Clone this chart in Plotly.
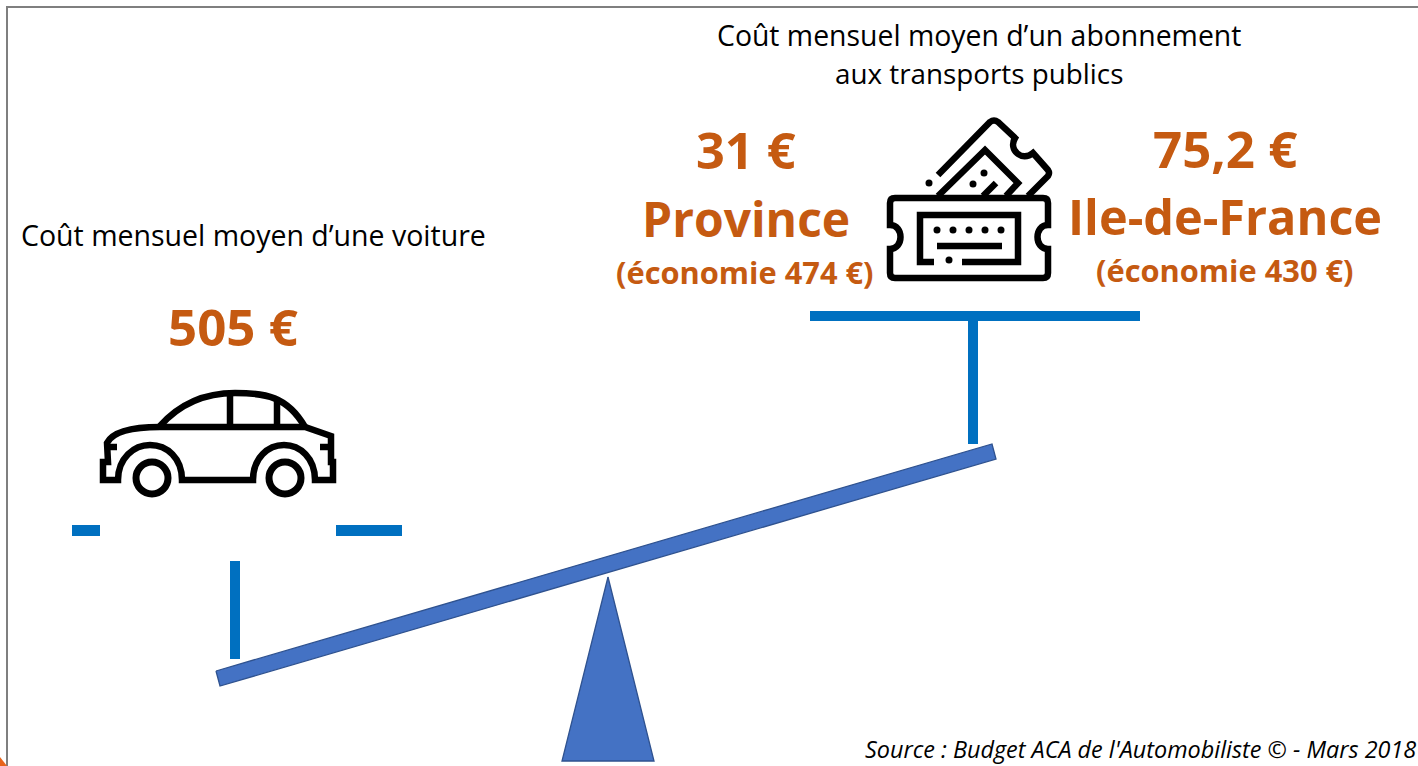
import plotly.graph_objects as go

W, H = 1418, 766
BLUE = "#0070C0"
BEAM = "#4472C4"
BEAM_LINE = "#2F528F"
ORANGE = "#C55A11"
BLACK = "#000000"
FONT = "Open Sans"

# Labels: text, x, y, size, bold, italic, colour, anchor
label_text = ["Coût mensuel moyen d’un abonnement", "aux transports publics", "Coût mensuel moyen d’une voiture",
              "505 €", "31 €", "Province", "(économie 474 €)", "75,2 €", "Ile-de-France", "(économie 430 €)",
              "Source : Budget ACA de l'Automobiliste © - Mars 2018"]
label_x = [979, 979, 253, 233, 746, 746, 745, 1225, 1225, 1225, 1418]
label_y = [35, 73, 235, 326, 149, 218, 272, 148, 216, 270, 749]
label_size = [28.4, 27.8, 28.5, 51, 50.5, 48, 30.8, 51, 48.6, 30.8, 23.4]
label_bold = [0, 0, 0, 1, 1, 1, 1, 1, 1, 1, 0]
label_italic = [0, 0, 0, 0, 0, 0, 0, 0, 0, 0, 1]
label_anchor = ["center"] * 10 + ["right"]

# Balance
beam_x = [216, 992, 996, 220]
beam_y = [671, 444, 459, 686]
pivot_x = [608, 654, 562]
pivot_y = [577, 761, 761]
bar_x0 = [810, 968, 72, 336, 230]
bar_x1 = [1140, 978, 100, 402, 240]
bar_y0 = [311, 321, 525, 525, 561]
bar_y1 = [321, 444, 536, 536, 659]

# Frame
frame_x = [7, 7, 1418]
frame_y = [766, 7, 7]
corner_x = [0, 7, 7, 0]
corner_y = [757, 766, 766, 766]

# Car pictogram (SVG paths in picture coordinates)
car_paths = [
    "M 107 443 C 113 431 135 427 160 427 L 305 427 L 331 436 L 331 462 L 333 462 L 333 480 L 315 480 "
    "C 315 458 300 445 284 445 C 268 445 253 458 253 480 L 182 480 C 182 458 167 445 150 445 "
    "C 134 445 118 458 118 480 L 103 480 L 103 462 L 108 462 Z",
    "M 160 426 C 183 400 210 393 235 393 C 265 393 287 396 305 427",
    "M 230 394 L 230 427",
    "M 277 399 L 277 427",
    "M 107 447 L 117 447",
    "M 320 447 L 331 447",
]
wheel_cx = [152, 285]
wheel_cy = [478, 478]

# Ticket pictogram (SVG paths in picture coordinates)
ticket_paths = [
    "M 895 198 L 1043 198 Q 1048 198 1048 203 L 1048 225 C 1034 225 1034 249 1048 249 L 1048 273 "
    "Q 1048 278 1043 278 L 895 278 Q 890 278 890 273 L 890 249 C 904 249 904 225 890 225 L 890 203 Q 890 198 895 198 Z",
    "M 934 262 L 920 262 L 920 215 L 1018 215 L 1018 262 L 962 262",
    "M 937 246 L 1002 246",
    "M 938 175 L 990 122 Q 994 119 998 122 L 1015 138 C 1008 150 1022 162 1033 153 L 1048 170 Q 1050 173 1048 176 L 1028 196",
    "M 938 196 L 985 150 L 1018 183 L 1006 196",
    "M 996 183 L 983 196",
]
dot_x = [937, 953, 969, 985, 1001, 949, 929, 984, 973]
dot_y = [230, 230, 230, 230, 230, 260, 183, 173, 184]

fig = go.Figure()

fig.add_trace(go.Scatter(x=frame_x, y=frame_y, mode="lines", line=dict(color="#7F7F7F", width=2), hoverinfo="skip"))
fig.add_trace(go.Scatter(x=corner_x, y=corner_y, mode="lines", fill="toself", fillcolor="#E8641B",
                         line=dict(width=0), hoverinfo="skip"))
for x0, x1, y0, y1 in zip(bar_x0, bar_x1, bar_y0, bar_y1):
    fig.add_trace(go.Scatter(x=[x0, x1, x1, x0, x0], y=[y0, y0, y1, y1, y0], mode="lines", fill="toself",
                             fillcolor=BLUE, line=dict(width=0), hoverinfo="skip"))
for xs, ys in ((beam_x, beam_y), (pivot_x, pivot_y)):
    fig.add_trace(go.Scatter(x=xs + xs[:1], y=ys + ys[:1], mode="lines", fill="toself", fillcolor=BEAM,
                             line=dict(color=BEAM_LINE, width=1.3), hoverinfo="skip"))
fig.add_trace(go.Scatter(x=dot_x, y=dot_y, mode="markers", marker=dict(color=BLACK, size=7), hoverinfo="skip"))
fig.add_trace(go.Scatter(x=wheel_cx, y=wheel_cy, mode="markers", hoverinfo="skip",
                         marker=dict(color="white", size=32, line=dict(color=BLACK, width=7))))

shapes = [dict(type="path", path=p, xref="x", yref="y", line=dict(color=BLACK, width=6.5), layer="above")
          for p in car_paths + ticket_paths]

annotations = []
for t, x, y, s, b, i, a in zip(label_text, label_x, label_y, label_size, label_bold, label_italic, label_anchor):
    txt = f"<b>{t}</b>" if b else t
    txt = f"<i>{txt}</i>" if i else txt
    annotations.append(dict(text=txt, x=x, y=y, xref="x", yref="y", xanchor=a, yanchor="middle", showarrow=False,
                            font=dict(family=FONT, size=s, color=ORANGE if b else BLACK)))

fig.update_layout(
    width=W, height=H, margin=dict(l=0, r=0, t=0, b=0), showlegend=False,
    paper_bgcolor="white", plot_bgcolor="white", shapes=shapes, annotations=annotations,
    xaxis=dict(range=[0, W], visible=False, fixedrange=True),
    yaxis=dict(range=[H, 0], visible=False, fixedrange=True),
)
fig.write_html("out.html", config={"displayModeBar": False},
               post_script="document.body.style.margin='0';document.body.style.overflow='hidden';window.dispatchEvent(new Event('resize'));")
